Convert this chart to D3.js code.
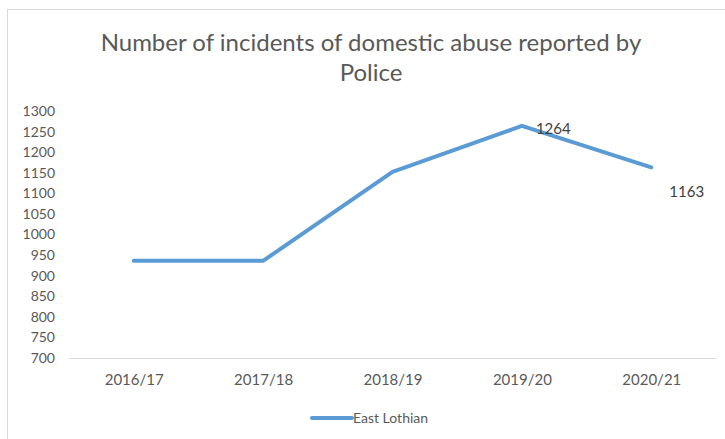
<!DOCTYPE html>
<html>
<head>
<meta charset="utf-8">
<script src="https://cdn.jsdelivr.net/npm/d3@7"></script>
<style>
  html, body { margin: 0; padding: 0; background: #ffffff; }
  svg { display: block; font-family: Lato, "Liberation Sans", sans-serif; }
</style>
</head>
<body>
<svg id="chart" width="725" height="439"></svg>
<script>
// Police-reported domestic abuse incidents, East Lothian
const years = ["2016/17", "2017/18", "2018/19", "2019/20", "2020/21"];
const incidents = [936, 936, 1152, 1264, 1163];
const labelledYears = ["2019/20", "2020/21"];
const yTicks = [700, 750, 800, 850, 900, 950, 1000, 1050, 1100, 1150, 1200, 1250, 1300];
const seriesName = "East Lothian";
const titleLines = ["Number of incidents of domestic abuse reported by", "Police"];

const svg = d3.select("#chart");
const W = 725, H = 439;
const margin = { top: 111, right: 9, bottom: 81, left: 69 };
const textColor = "#595959";
const lineColor = "#5B9BD5";

// chart frame
svg.append("rect")
  .attr("x", 7.5).attr("y", 9.5)
  .attr("width", W).attr("height", H)
  .attr("fill", "#fff").attr("stroke", "#d9d9d9").attr("stroke-width", 1);

// title
svg.append("text")
  .attr("x", 371).attr("y", 51)
  .attr("text-anchor", "middle")
  .attr("fill", textColor)
  .style("font-size", "24px")
  .selectAll("tspan").data(titleLines).join("tspan")
  .attr("x", 371)
  .attr("dy", (d, i) => i === 0 ? 0 : 30)
  .text(d => d);

const x = d3.scalePoint()
  .domain(years)
  .range([margin.left, W - margin.right])
  .padding(0.5);

const y = d3.scaleLinear()
  .domain([700, 1300])
  .range([H - margin.bottom, margin.top]);

// y axis labels (no axis line)
const yAxis = svg.append("g")
  .attr("transform", `translate(${margin.left},0)`)
  .call(d3.axisLeft(y).tickValues(yTicks).tickSize(0).tickPadding(14).tickFormat(d3.format("d")));
yAxis.select(".domain").remove();
yAxis.selectAll("text")
  .attr("fill", textColor)
  .style("font-size", "14px")
  .style("font-family", "Lato, 'Liberation Sans', sans-serif");

// x axis
const xAxis = svg.append("g")
  .attr("transform", `translate(0,${y(700)})`)
  .call(d3.axisBottom(x).tickSize(0).tickPadding(16));
xAxis.select(".domain")
  .attr("d", `M${margin.left},0.5H${W - margin.right}`)
  .attr("stroke", "#d9d9d9");
xAxis.selectAll("text")
  .attr("fill", textColor)
  .style("font-size", "15px")
  .style("font-family", "Lato, 'Liberation Sans', sans-serif");

// series line
const line = d3.line()
  .x((d, i) => x(years[i]))
  .y(d => y(d));

svg.append("path")
  .datum(incidents)
  .attr("d", line)
  .attr("fill", "none")
  .attr("stroke", lineColor)
  .attr("stroke-width", 4)
  .attr("stroke-linejoin", "round")
  .attr("stroke-linecap", "round");

// data labels
const labelOffsets = { "2019/20": [14, 8], "2020/21": [18, 30] };
svg.append("g").selectAll("text")
  .data(years.map((yr, i) => ({ yr, v: incidents[i] })).filter(d => labelledYears.includes(d.yr)))
  .join("text")
  .attr("x", d => x(d.yr) + labelOffsets[d.yr][0])
  .attr("y", d => y(d.v) + labelOffsets[d.yr][1])
  .attr("fill", "#404040")
  .style("font-size", "15px")
  .text(d => d.v);

// legend
const lg = svg.append("g").attr("transform", "translate(312,418)");
lg.append("line")
  .attr("x1", 0).attr("x2", 40).attr("y1", 0).attr("y2", 0)
  .attr("stroke", lineColor).attr("stroke-width", 4).attr("stroke-linecap", "round");
lg.append("text")
  .attr("x", 41).attr("y", 5)
  .attr("fill", textColor)
  .style("font-size", "14px")
  .text(seriesName);
</script>
</body>
</html>
